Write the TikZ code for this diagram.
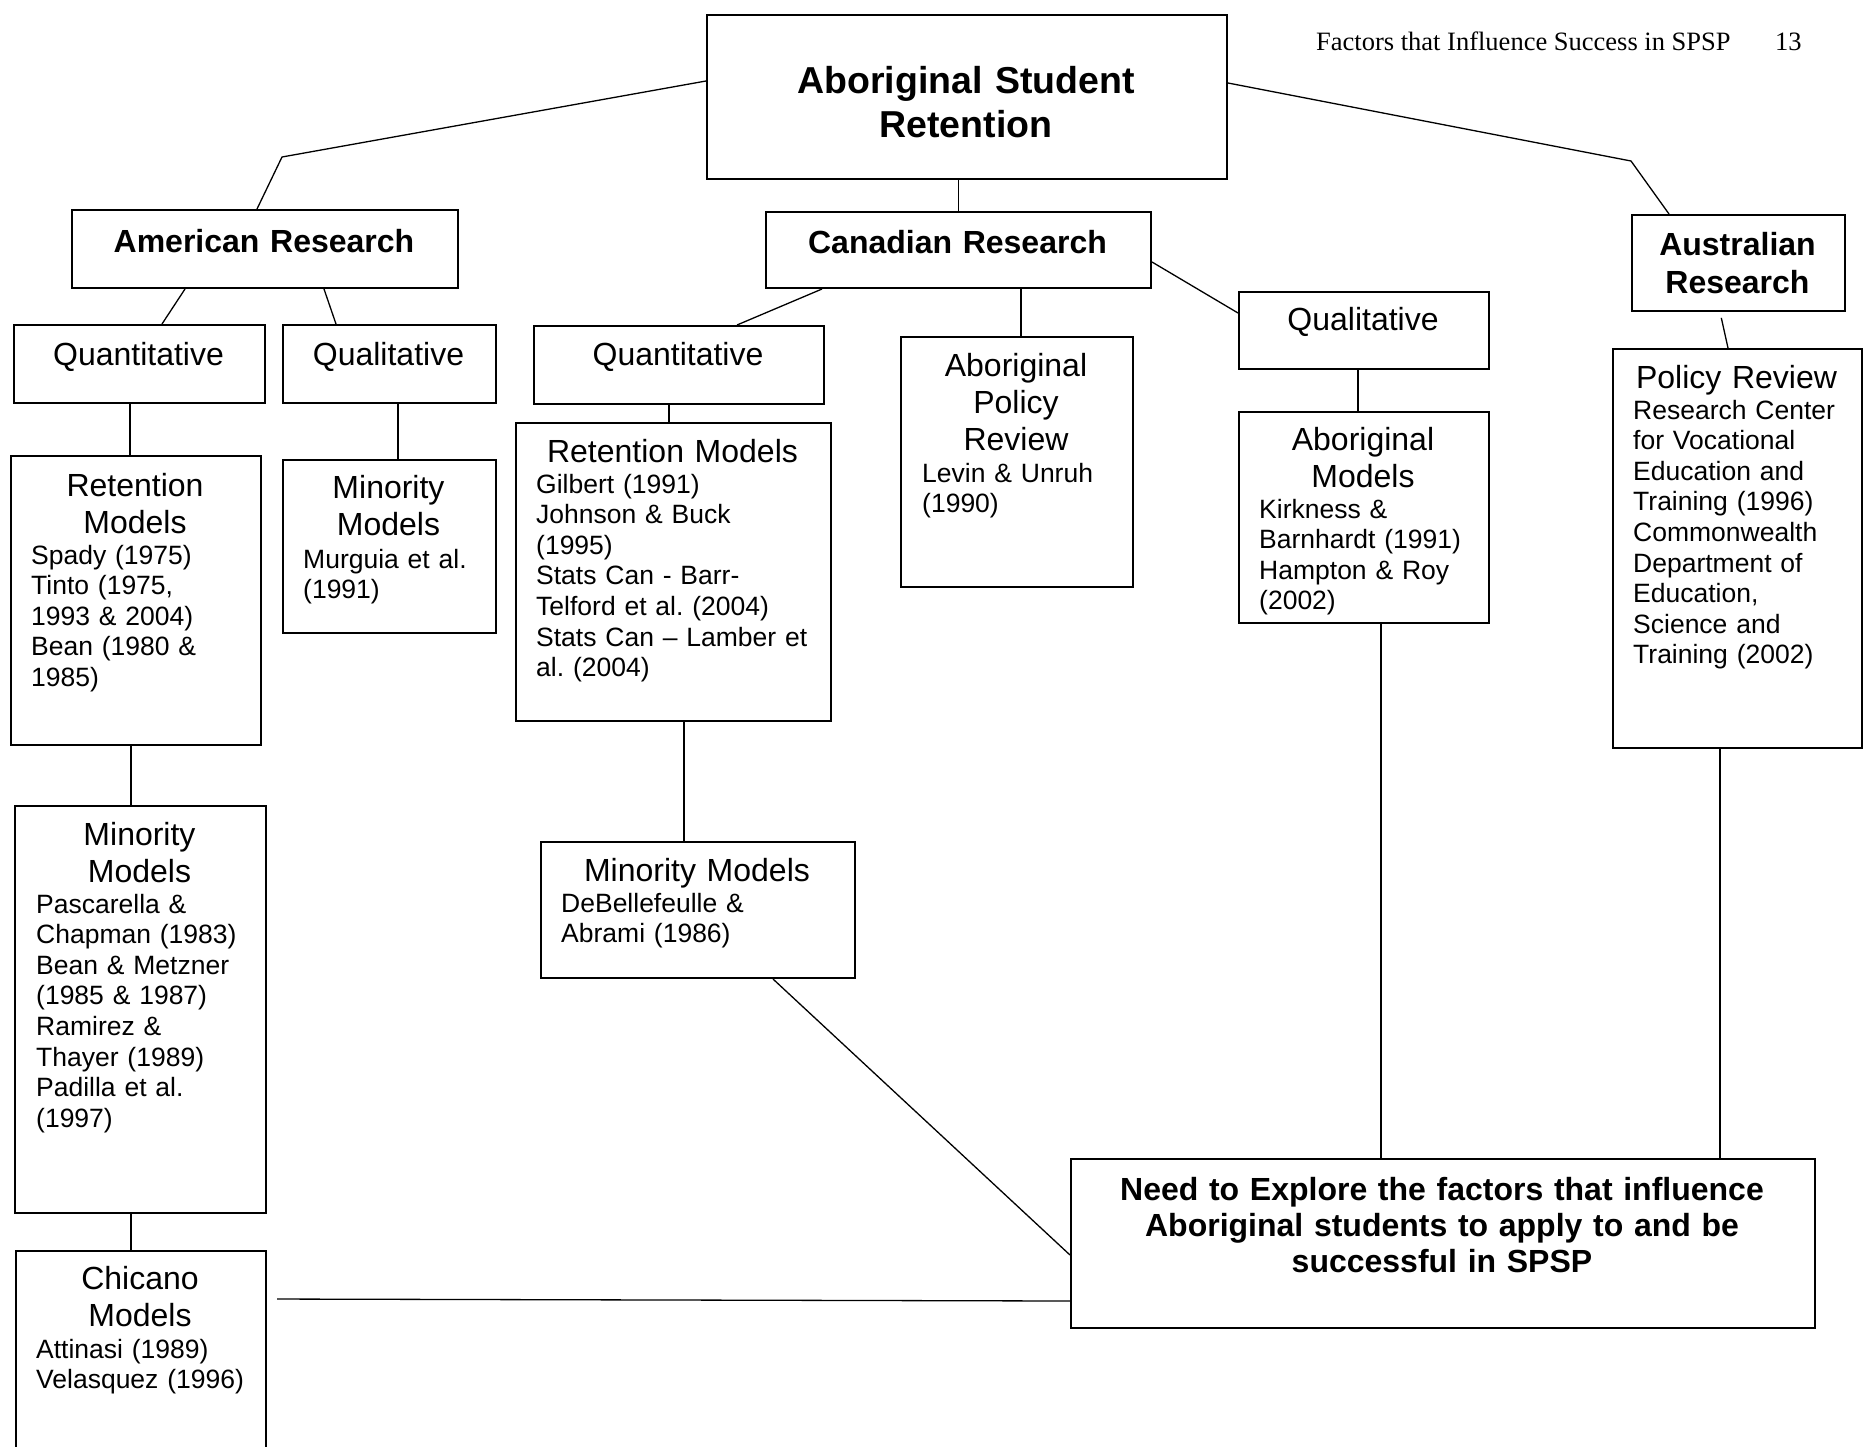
\documentclass[tikz,border=0pt]{standalone}
\usepackage{fontspec}
\setmainfont{Liberation Sans}
\newfontfamily\hdrfont{Liberation Serif}
\frenchspacing
\begin{document}
\begin{tikzpicture}[x=1pt,y=-1pt,
  box/.style={draw, line width=2pt, inner sep=0pt, anchor=north west},
  conn/.style={line width=1.3pt},
  ttl/.style={font=\frenchspacing\fontsize{32}{37}\selectfont, inner sep=0pt, text width=400pt, align=center, anchor=base},
  bdy/.style={font=\frenchspacing\fontsize{26.5}{30.6}\selectfont, inner sep=0pt, text width=400pt, align=left, anchor=base west},
  bld/.style={font=\frenchspacing\fontsize{32}{36}\selectfont\bfseries, inner sep=0pt, text width=900pt, align=center, anchor=base},
  hdr/.style={font=\hdrfont\fontsize{26.5}{30}\selectfont, inner sep=0pt, anchor=base west},
]
\fill[white] (0,0) rectangle (1863,1446);
\useasboundingbox (0,0) rectangle (1863,1446);

% header
\node[hdr] (hdr) at (1316,50) {Factors that Influence Success in SPSP};
\node[hdr] (pg) at (1775,50) {13};

% boxes
\node[box, minimum width=520pt, minimum height=164pt] (root) at (706,14) {};
\node[box, minimum width=386pt, minimum height=78pt] (am) at (71,209) {};
\node[box, minimum width=385pt, minimum height=76pt] (can) at (765,211) {};
\node[box, minimum width=213pt, minimum height=96pt] (aus) at (1631,214) {};
\node[box, minimum width=251pt, minimum height=78pt] (amquant) at (13,324) {};
\node[box, minimum width=213pt, minimum height=78pt] (amqual) at (282,324) {};
\node[box, minimum width=290pt, minimum height=78pt] (canquant) at (533,325) {};
\node[box, minimum width=250pt, minimum height=77pt] (canqual) at (1238,291) {};
\node[box, minimum width=250pt, minimum height=289pt] (amret) at (10,455) {};
\node[box, minimum width=213pt, minimum height=173pt] (amqualmin) at (282,459) {};
\node[box, minimum width=315pt, minimum height=298pt] (canret) at (515,422) {};
\node[box, minimum width=232pt, minimum height=250pt] (apr) at (900,336) {};
\node[box, minimum width=250pt, minimum height=211pt] (abm) at (1238,411) {};
\node[box, minimum width=249pt, minimum height=399pt] (pol) at (1612,348) {};
\node[box, minimum width=251pt, minimum height=407pt] (ammin) at (14,805) {};
\node[box, minimum width=314pt, minimum height=136pt] (canmin) at (540,841) {};
\node[box, minimum width=250pt, minimum height=260pt] (chic) at (15,1250) {};
\node[box, minimum width=744pt, minimum height=169pt] (need) at (1070,1158) {};

% texts
\node[bld, font=\fontsize{37.5}{44}\selectfont\bfseries] (roott) at (966,93) {Aboriginal Student\\Retention};
\node[bld] (amt) at (264,252) {American Research};
\node[bld] (cant) at (957.5,253) {Canadian Research};
\node[bld, font=\fontsize{32}{38}\selectfont\bfseries] (aust) at (1737.5,255) {Australian\\Research};
\node[ttl] (amquantt) at (138.5,365) {Quantitative};
\node[ttl] (amqualt) at (388.5,365) {Qualitative};
\node[ttl] (canquantt) at (678,365) {Quantitative};
\node[ttl] (canqualt) at (1363,330) {Qualitative};

\node[ttl] (amrett) at (135,496) {Retention\\Models};
\node[bdy] (amretb) at (31,564) {Spady (1975)\\Tinto (1975,\\1993 \& 2004)\\Bean (1980 \&\\1985)};

\node[ttl] (amqualmint) at (388.5,498) {Minority\\Models};
\node[bdy] (amqualminb) at (303,568) {Murguia et al.\\(1991)};

\node[ttl] (canrett) at (672.5,462) {Retention Models};
\node[bdy] (canretb) at (536,493) {Gilbert (1991)\\Johnson \& Buck\\(1995)\\Stats Can - Barr-\\Telford et al. (2004)\\Stats Can -- Lamber et\\al. (2004)};

\node[ttl] (aprt) at (1016,376) {Aboriginal\\Policy\\Review};
\node[bdy] (aprb) at (922,482) {Levin \& Unruh\\(1990)};

\node[ttl] (abmt) at (1363,450) {Aboriginal\\Models};
\node[bdy] (abmb) at (1259,518) {Kirkness \&\\Barnhardt (1991)\\Hampton \& Roy\\(2002)};

\node[ttl] (polt) at (1736.5,388) {Policy Review};
\node[bdy] (polb) at (1633,419) {Research Center\\for Vocational\\Education and\\Training (1996)\\Commonwealth\\Department of\\Education,\\Science and\\Training (2002)};

\node[ttl] (ammint) at (139.5,845) {Minority\\Models};
\node[bdy] (amminb) at (36,913) {Pascarella \&\\Chapman (1983)\\Bean \& Metzner\\(1985 \& 1987)\\Ramirez \&\\Thayer (1989)\\Padilla et al.\\(1997)};

\node[ttl] (canmint) at (697,881) {Minority Models};
\node[bdy] (canminb) at (561,912) {DeBellefeulle \&\\Abrami (1986)};

\node[ttl] (chict) at (140,1289) {Chicano\\Models};
\node[bdy] (chicb) at (36,1358) {Attinasi (1989)\\Velasquez (1996)};

\node[bld] (needt) at (1442,1200) {Need to Explore the factors that influence\\Aboriginal students to apply to and be\\successful in SPSP};

% connectors
\coordinate (b1) at (282,157);
\coordinate (b2) at (1631,161);
\draw[conn] (root.west |- 0,81) -- (b1) -- (257,0 |- am.north);
\draw[conn] (root.east |- 0,83) -- (b2) -- (1669,0 |- aus.north);
\draw[conn] (can.north |- root.south) -- (can.north);
\draw[conn] (185,0 |- am.south) -- (162,0 |- amquant.north);
\draw[conn] (324,0 |- am.south) -- (336,0 |- amqual.north);
\draw[conn] (822,0 |- can.south) -- (737,0 |- canquant.north);
\draw[conn] (1021,0 |- can.south) -- (1021,0 |- apr.north);
\draw[conn] (can.east |- 0,262) -- (canqual.west |- 0,313);
\draw[conn, shorten <=6pt] (1720,0 |- aus.south) -- (1728,0 |- pol.north);
\draw[conn] (130,0 |- amquant.south) -- (130,0 |- amret.north);
\draw[conn] (398,0 |- amqual.south) -- (398,0 |- amqualmin.north);
\draw[conn] (669,0 |- canquant.south) -- (669,0 |- canret.north);
\draw[conn] (1358,0 |- canqual.south) -- (1358,0 |- abm.north);
\draw[conn] (131,0 |- amret.south) -- (131,0 |- ammin.north);
\draw[conn] (131,0 |- ammin.south) -- (131,0 |- chic.north);
\draw[conn] (684,0 |- canret.south) -- (684,0 |- canmin.north);
\draw[conn] (773,0 |- canmin.south) -- (need.west |- 0,1255);
\draw[conn, shorten <=10pt] (chic.east |- 0,1299) -- (need.west |- 0,1301);
\draw[conn] (1381,0 |- abm.south) -- (1381,0 |- need.north);
\draw[conn] (1720,0 |- pol.south) -- (1720,0 |- need.north);
\end{tikzpicture}
\end{document}
